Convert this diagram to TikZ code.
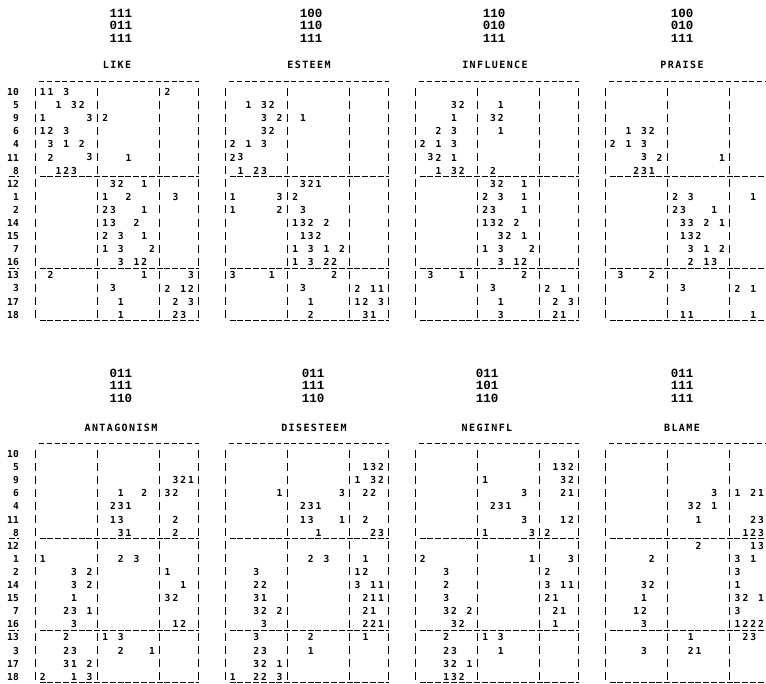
\documentclass[tikz,border=0pt]{standalone}
\usepackage{fontspec}
\newfontfamily\digf{DejaVu Sans Mono}
\newfontfamily\titf[LetterSpace=14]{DejaVu Sans Mono}
\newfontfamily\hdrf{Liberation Mono}
\newcount\colk
\def\cw{7.8}
\newcommand\putrow[3]{\def\rx{#1}\def\ry{#2}\global\colk=0 \dorow#3\relax}
\def\dorow#1{\ifx#1\relax\else\global\advance\colk by 1 \if#1.\else\if#1|\else\node[dig] at ({\rx+\cw*\the\colk},{\ry}) {#1};\fi\fi\expandafter\dorow\fi}
\newcommand\prow[2]{\putrow{\px}{\py+13.1*#1}{#2}}
\newcommand\pframe{%
  \foreach \b in {0,8,16,21} \draw[vbar] ({floor(\px+\cw*\b)+0.5},{\py-4.5}) -- ({floor(\px+\cw*\b)+0.5},{\py+13.1*17+5});
  \draw[tline] ({\px+\cw*0.5},{floor(\py-10.5)+0.5}) -- ({\px+\cw*21},{floor(\py-10.5)+0.5});
  \foreach \r in {6,13,17} \draw[usline] ({\px+\cw*0.5+0.7},{floor(\py+13.1*\r+5.8)+0.5}) -- ({\px+\cw*21},{floor(\py+13.1*\r+5.8)+0.5});
}
\newcommand\plabels{%
  \foreach \i/\l in {0/10,1/5,2/9,3/6,4/4,5/11,6/8,7/12,8/1,9/2,10/14,11/15,12/7,13/16,14/13,15/3,16/17,17/18}
    \node[lab] at (19,{\py+13.1*\i}) {\l};
  \draw[usline] (9,{floor(\py+13.1*6+5.8)+0.5}) -- (19,{floor(\py+13.1*6+5.8)+0.5});
  \draw[usline] (9,{floor(\py+13.1*13+5.8)+0.5}) -- (19,{floor(\py+13.1*13+5.8)+0.5});
}
\begin{document}
\begin{tikzpicture}[x=1pt,y=-1pt,
  dig/.style={inner sep=0pt, font=\digf\bfseries\fontsize{9.6}{9.6}\selectfont},
  lab/.style={inner sep=0pt, anchor=east, font=\digf\bfseries\fontsize{9.6}{9.6}\selectfont},
  hdr/.style={inner sep=0pt, font=\hdrf\bfseries\fontsize{12.5}{12.5}\selectfont},
  ttl/.style={inner sep=0pt, font=\titf\bfseries\fontsize{10}{10}\selectfont},
  vbar/.style={line width=1.1pt, dash pattern=on 8pt off 5.1pt},
  tline/.style={line width=1.3pt, dash pattern=on 5pt off 2.8pt},
  usline/.style={line width=1.2pt, dash pattern=on 6pt off 1.8pt}]
\useasboundingbox[fill=white] (0,0) rectangle (766,683);
% ---------------- headers and titles ----------------
\node[hdr] (h1a) at (121,13) {111}; \node[hdr] (h1b) at (121,25.5) {011}; \node[hdr] (h1c) at (121,38) {111};
\node[ttl] (t1) at (117,65) {LIKE};
\node[hdr] (h2a) at (311,13) {100}; \node[hdr] (h2b) at (311,25.5) {110}; \node[hdr] (h2c) at (311,38) {111};
\node[ttl] (t2) at (309,65) {ESTEEM};
\node[hdr] (h3a) at (494,13) {110}; \node[hdr] (h3b) at (494,25.5) {010}; \node[hdr] (h3c) at (494,38) {111};
\node[ttl] (t3) at (495,65) {INFLUENCE};
\node[hdr] (h4a) at (682,13) {100}; \node[hdr] (h4b) at (682,25.5) {010}; \node[hdr] (h4c) at (682,38) {111};
\node[ttl] (t4) at (682,65) {PRAISE};
\node[hdr] (h5a) at (121,373) {011}; \node[hdr] (h5b) at (121,385.5) {111}; \node[hdr] (h5c) at (121,398) {110};
\node[ttl] (t5) at (121,428) {ANTAGONISM};
\node[hdr] (h6a) at (313,373) {011}; \node[hdr] (h6b) at (313,385.5) {111}; \node[hdr] (h6c) at (313,398) {110};
\node[ttl] (t6) at (314,428) {DISESTEEM};
\node[hdr] (h7a) at (487,373) {011}; \node[hdr] (h7b) at (487,385.5) {101}; \node[hdr] (h7c) at (487,398) {110};
\node[ttl] (t7) at (487,428) {NEGINFL};
\node[hdr] (h8a) at (682,373) {011}; \node[hdr] (h8b) at (682,385.5) {111}; \node[hdr] (h8c) at (682,398) {111};
\node[ttl] (t8) at (682,428) {BLAME};
% ---------------- LIKE ----------------
\def\px{35}\def\py{92}
\pframe \plabels
\prow{0}{11.3...|.......|2...}
\prow{1}{..1.32.|.......|....}
\prow{2}{1.....3|2......|....}
\prow{3}{12.3...|.......|....}
\prow{4}{.3.1.2.|.......|....}
\prow{5}{.2....3|...1...|....}
\prow{6}{..123..|.......|....}
\prow{7}{.......|.32..1.|....}
\prow{8}{.......|1..2...|.3..}
\prow{9}{.......|23...1.|....}
\prow{10}{.......|13..2..|....}
\prow{11}{.......|2.3..1.|....}
\prow{12}{.......|1.3...2|....}
\prow{13}{.......|..3.12.|....}
\prow{14}{.2.....|.....1.|...3}
\prow{15}{.......|.3.....|2.12}
\prow{16}{.......|..1....|.2.3}
\prow{17}{.......|..1....|.23.}
% ---------------- ESTEEM ----------------
\def\px{225}\def\py{92}
\pframe
\prow{1}{..1.32.|.......|....}
\prow{2}{....3.2|.1.....|....}
\prow{3}{....32.|.......|....}
\prow{4}{2.1.3..|.......|....}
\prow{5}{23.....|.......|....}
\prow{6}{.1.23..|.......|....}
\prow{7}{.......|.321...|....}
\prow{8}{1.....3|2......|....}
\prow{9}{1.....2|.3.....|....}
\prow{10}{.......|132.2..|....}
\prow{11}{.......|.132...|....}
\prow{12}{.......|1.3.1.2|....}
\prow{13}{.......|1.3.22.|....}
\prow{14}{3....1.|.....2.|....}
\prow{15}{.......|.3.....|2.11}
\prow{16}{.......|..1....|12.3}
\prow{17}{.......|..2....|.31.}
% ---------------- INFLUENCE ----------------
\def\px{415}\def\py{92}
\pframe
\prow{1}{....32.|..1....|....}
\prow{2}{....1..|.32....|....}
\prow{3}{..2.3..|..1....|....}
\prow{4}{2.1.3..|.......|....}
\prow{5}{.32.1..|.......|....}
\prow{6}{..1.32.|.2.....|....}
\prow{7}{.......|.32..1.|....}
\prow{8}{.......|2.3..1.|....}
\prow{9}{.......|23...1.|....}
\prow{10}{.......|132.2..|....}
\prow{11}{.......|..32.1.|....}
\prow{12}{.......|1.3...2|....}
\prow{13}{.......|..3.12.|....}
\prow{14}{.3...1.|.....2.|....}
\prow{15}{.......|.3.....|2.1.}
\prow{16}{.......|..1....|.2.3}
\prow{17}{.......|..3....|.21.}
% ---------------- PRAISE ----------------
\def\px{605}\def\py{92}
\pframe
\prow{3}{..1.32.|.......|....}
\prow{4}{2.1.3..|.......|....}
\prow{5}{....3.2|......1|....}
\prow{6}{...231.|.......|....}
\prow{8}{.......|2.3....|..1.}
\prow{9}{.......|23...1.|....}
\prow{10}{.......|.33.2.1|....}
\prow{11}{.......|.132...|....}
\prow{12}{.......|..3.1.2|....}
\prow{13}{.......|..2.13.|....}
\prow{14}{.3...2.|.......|....}
\prow{15}{.......|.3.....|2.1.}
\prow{17}{.......|.11....|..1.}
% ---------------- ANTAGONISM ----------------
\def\px{35}\def\py{454}
\pframe \plabels
\prow{2}{.......|.......|.321}
\prow{3}{.......|..1..2.|32..}
\prow{4}{.......|.231...|....}
\prow{5}{.......|.13....|.2..}
\prow{6}{.......|..31...|.2..}
\prow{8}{1......|..2.3..|....}
\prow{9}{....3.2|.......|1...}
\prow{10}{....3.2|.......|..1.}
\prow{11}{....1..|.......|32..}
\prow{12}{...23.1|.......|....}
\prow{13}{....3..|.......|.12.}
\prow{14}{...2...|1.3....|....}
\prow{15}{...23..|..2...1|....}
\prow{16}{...31.2|.......|....}
\prow{17}{2...1.3|.......|....}
% ---------------- DISESTEEM ----------------
\def\px{225}\def\py{454}
\pframe
\prow{1}{.......|.......|.132}
\prow{2}{.......|.......|1.32}
\prow{3}{......1|......3|.22.}
\prow{4}{.......|.231...|....}
\prow{5}{.......|.13...1|.2..}
\prow{6}{.......|...1...|..23}
\prow{8}{.......|..2.3..|.1..}
\prow{9}{...3...|.......|12..}
\prow{10}{...22..|.......|3.11}
\prow{11}{...31..|.......|.211}
\prow{12}{...32.2|.......|.21.}
\prow{13}{....3..|.......|.221}
\prow{14}{...3...|..2....|.1..}
\prow{15}{...23..|..1....|....}
\prow{16}{...32.1|.......|....}
\prow{17}{1..22.3|.......|....}
% ---------------- NEGINFL ----------------
\def\px{415}\def\py{454}
\pframe
\prow{1}{.......|.......|.132}
\prow{2}{.......|1......|..32}
\prow{3}{.......|.....3.|..21}
\prow{4}{.......|.231...|....}
\prow{5}{.......|.....3.|..12}
\prow{6}{.......|1.....3|2...}
\prow{8}{2......|......1|...3}
\prow{9}{...3...|.......|2...}
\prow{10}{...2...|.......|3.11}
\prow{11}{...3...|.......|21..}
\prow{12}{...32.2|.......|.21.}
\prow{13}{....32.|.......|.1..}
\prow{14}{...2...|1.3....|....}
\prow{15}{...23..|..1....|....}
\prow{16}{...32.1|.......|....}
\prow{17}{...132.|.......|....}
% ---------------- BLAME ----------------
\def\px{605}\def\py{454}
\pframe
\prow{3}{.......|.....3.|1.21}
\prow{4}{.......|..32.1.|....}
\prow{5}{.......|...1...|..23}
\prow{6}{.......|.......|.123}
\prow{7}{.......|...2...|..13}
\prow{8}{.....2.|.......|3.1.}
\prow{9}{.......|.......|3...}
\prow{10}{....32.|.......|1...}
\prow{11}{....1..|.......|32.1}
\prow{12}{...12..|.......|3...}
\prow{13}{....3..|.......|1222}
\prow{14}{.......|..1....|.23.}
\prow{15}{....3..|..21...|....}
\end{tikzpicture}
\end{document}
